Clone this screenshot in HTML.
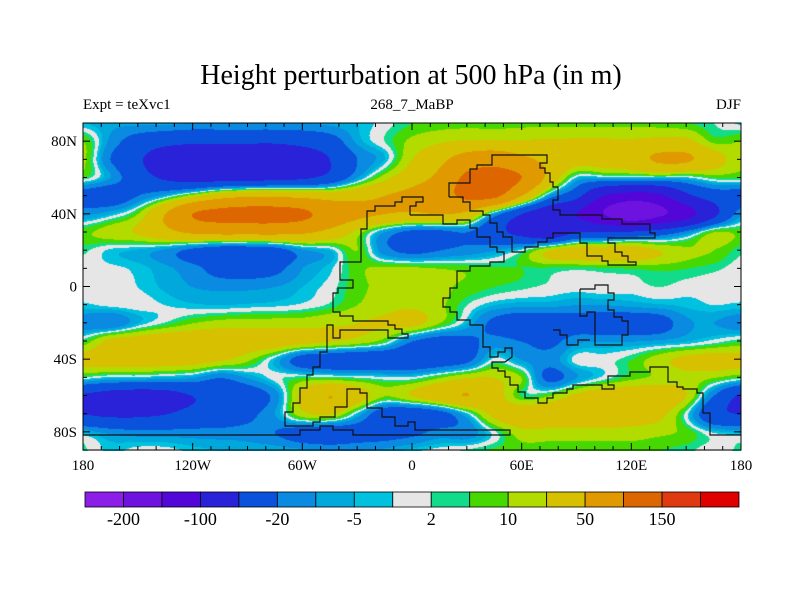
<!DOCTYPE html>
<html><head><meta charset="utf-8"><style>
body{margin:0;background:#fff;width:800px;height:600px;overflow:hidden;position:relative;font-family:"Liberation Serif",serif}
.t{position:absolute;white-space:nowrap;color:#000}
</style></head><body>
<div class="t" style="left:0;width:822px;text-align:center;top:60px;font-size:28px">Height perturbation at 500 hPa (in m)</div>
<div class="t" style="left:83px;top:97px;font-size:15px">Expt = teXvc1</div>
<div class="t" style="left:312px;width:200px;text-align:center;top:97px;font-size:15px">268_7_MaBP</div>
<div class="t" style="right:59px;top:97px;font-size:15px">DJF</div>
<canvas id="field" width="658" height="328" style="position:absolute;left:83px;top:123px"></canvas>
<svg id="ov" width="800" height="600" style="position:absolute;left:0;top:0">
<g fill="none" stroke="#111" stroke-width="1.2">
<polyline points="449,197 463,197 463,202 470,202 470,211 483,211 483,215 490,215 490,223 497,223 497,232 503,232 503,237 512,237 512,252 525,252 525,247 538,247 538,242 547,242 547,238 553,238 553,233 580,233 580,243 587,243 587,256 602,256 602,261 608,261 608,265 636,265 636,262 628,262 628,256 622,256 622,252 615,252 615,243 608,243 608,238 655,238 655,233 650,233 650,224 622,224 622,219 602,219 602,215 560,215 560,210 553,210 553,200 558,200 558,187 553,187 553,182 550,182 550,173 545,173 545,168 540,168 540,163 547,163 547,155 492,155 492,165 477,165 477,169 470,169 470,183 449,183 449,197"/>
<polyline points="410,215 443,215 443,224 457,224 457,220 470,220 470,228 477,228 477,237 490,237 490,247 497,247 497,252 504,252 504,262 490,262 490,266 470,266 470,271 457,271 457,288 450,288 450,298 443,298 443,307 450,307 450,312 457,312 457,320 470,320 470,325 483,325 483,347 490,347 490,357 498,357 498,352 505,352 505,348 512,348 512,357 505,362 492,362 492,368 498,368 498,371 505,371 505,377 510,377 510,385 518,385 518,392 525,392 525,398 538,398 538,403 547,403 547,398 553,398 553,393 567,393 567,389 573,389 573,385 602,385 602,389 614,389 614,385 608,385 608,376 630,376 630,372 650,372 650,367 668,367 668,382 677,382 677,387 683,387 683,389 697,389 697,393 703,393 703,413 710,413 710,435 741,435"/>
<polyline points="410,215 410,206 416,206 416,202 423,202 423,197 402,197 402,202 395,202 395,206 375,206 375,211 367,211 367,229 361,229 361,262 340,262 340,280 353,280 353,288 338,288 338,293 333,293 333,312 340,312 340,316 353,316 353,321 388,321 388,325 395,325 395,329 402,329 402,334 408,334 408,338 388,338 388,330 340,330 340,338 333,338 333,325 327,325 327,352 320,352 320,367 313,367 313,375 307,375 307,388 300,388 300,403 293,403 293,412 285,412 285,426 313,426 313,422 320,422 320,417 335,417 335,407 347,407 347,389 360,389 360,393 367,393 367,408 382,408 382,417 395,417 395,426 408,426 408,422 415,422 415,430 510,430 510,435 353,435 353,430 333,430 333,426 320,426 320,430 300,430 300,435 83,435"/>
<polyline points="580,289 595,289 595,285 608,285 608,293 614,293 614,300 608,300 608,310 614,310 614,317 622,317 622,321 628,321 628,335 622,335 622,345 595,345 595,312 587,312 587,316 580,316 580,289"/>
<polyline points="553,330 560,330 560,335 567,335 567,345 578,345 578,340 590,340"/>
</g>
<rect x="83" y="123" width="658" height="327" fill="none" stroke="#000" stroke-width="1"/>
<g id="ticks" stroke="#000" stroke-width="1"></g>
<g id="labels" font-family="Liberation Serif, serif" font-size="15" fill="#000"></g>
<g id="cbar"></g>
</svg>
<script>
const lons=[-180,-165,-150,-135,-120,-105,-90,-75,-60,-45,-30,-15,0,15,30,45,60,75,90,105,120,135,150,165,180];
const lats=[90,80,70,60,50,40,30,20,10,0,-10,-20,-30,-40,-50,-60,-70,-80,-90];
const r90=[-5,-8,-8,-8,-10,-10,-10,-10,-10,-8,-5,0,5,7,8,8,8,8,8,8,8,7,5,2,-3];
const r80=[10,-12,-30,-40,-45,-45,-45,-45,-40,-30,-8,2,12,18,22,22,22,22,22,22,22,25,25,8,10];
const r70=[12,-20,-45,-70,-75,-80,-80,-80,-70,-50,-20,-5,20,40,70,80,60,40,30,30,35,55,55,30,12];
const r60=[5,-10,-35,-55,-65,-65,-65,-60,-55,-40,-10,15,35,60,110,120,100,40,-3,-5,-5,-3,-3,5,5];
const r50=[-30,-35,-20,-5,15,35,45,45,40,35,40,50,60,80,110,110,50,-10,-40,-100,-120,-110,-60,-35,-30];
const r40=[-12,-5,10,50,100,115,120,120,110,80,60,50,45,50,40,-10,-50,-80,-100,-150,-190,-160,-120,-60,-12];
const r30=[8,15,22,40,55,60,60,60,55,40,15,-10,-25,-25,-20,-40,-60,-80,-50,-50,-45,-35,-15,10,8];
const r20=[3,-3,-6,-12,-25,-35,-35,-30,-12,-5,10,-15,-25,-20,-15,-10,0,20,30,30,30,20,12,10,3];
const r10=[0,-1,-3,-8,-15,-28,-30,-25,-10,-3,8,12,12,10,8,6,5,4,3,4,5,6,5,3,0];
const r0=[0,0,-2,-6,-10,-12,-12,-10,-5,0,8,12,15,12,8,5,3,1,0,1,0,2,0,-1,0];
const rS10=[-3,-1,0,-2,-4,-5,-4,-3,-1,3,10,15,18,12,2,-5,-8,-8,-10,-10,-8,-6,-4,-2,-3];
const rS20=[-15,-18,-5,3,10,14,15,15,15,18,20,22,25,10,-5,-25,-35,-35,-30,-35,-35,-30,-12,-10,-15];
const rS30=[5,25,30,35,35,35,30,30,25,20,15,5,-20,-30,-25,-15,-20,-25,-12,-10,-10,-8,-5,0,5];
const rS40=[25,30,30,30,28,22,12,-5,-30,-35,-40,-40,-40,-35,-25,0,-10,-15,0,0,5,15,25,28,25];
const rS50=[0,-5,-5,-8,-10,-20,-10,0,5,5,3,0,0,10,20,20,10,-25,-10,0,8,12,15,10,3];
const rS60=[-55,-65,-70,-65,-50,-40,-35,-15,25,50,30,10,20,35,50,30,5,10,25,35,35,35,20,-20,-55];
const rS70=[-50,-55,-55,-50,-40,-35,-25,-10,15,20,-5,-35,-40,-30,-5,25,35,35,35,35,30,25,0,-40,-50];
const rS80=[-5,-12,-15,-15,-15,-15,-15,-20,-30,-35,-30,-30,-25,-15,-15,0,15,15,15,15,15,12,8,-2,-5];
const rS90=[3,-3,0,0,-3,-5,-6,-6,-8,-10,-10,-8,-3,0,3,6,7,7,7,7,6,5,3,0,3];
const heightRows=[r90,r80,r70,r60,r50,r40,r30,r20,r10,r0,rS10,rS20,rS30,rS40,rS50,rS60,rS70,rS80,rS90];
const levels=[-200,-150,-100,-50,-20,-10,-5,-2,2,5,10,20,50,100,150,200];
const levelLabels=["-200","-100","-20","-5","2","10","50","150"];
const colors=['#8c1ee8','#6e12e0','#5206d8','#2a22d8','#0a52dc','#0a8ae0','#00a8dc','#00c2de','#e6e6e6','#12dc8a','#46d800','#b2dc00','#d6c000','#e09a00','#de6600','#e03a10','#e00000'];
const xTickLabels=["180","120W","60W","0","60E","120E","180"];
const xTickLons=[-180,-120,-60,0,60,120,180];
const yTickLabels=["80N","40N","0","40S","80S"];
const yTickLats=[80,40,0,-40,-80];

const X0=83,X1=741,Y0=123,Y1=450;
const xOf=lon=>X0+(lon+180)/360*(X1-X0);
const yOf=lat=>Y0+(90-lat)/180*(Y1-Y0);
function cr(p0,p1,p2,p3,t){return 0.5*((2*p1)+(-p0+p2)*t+(2*p0-5*p1+4*p2-p3)*t*t+(-p0+3*p1-3*p2+p3)*t*t*t);}
function val(gx,gy){
  const nx=lons.length,ny=lats.length;
  const ix=Math.floor(gx),iy=Math.floor(gy),tx=gx-ix,ty=gy-iy;
  const cl=(v,n)=>Math.max(0,Math.min(n-1,v));
  const rows=[];
  for(let j=-1;j<=2;j++){const r=heightRows[cl(iy+j,ny)];
    rows.push(cr(r[cl(ix-1,nx)],r[cl(ix,nx)],r[cl(ix+1,nx)],r[cl(ix+2,nx)],tx));}
  return cr(rows[0],rows[1],rows[2],rows[3],ty);
}
function hex(c){return [parseInt(c.substr(1,2),16),parseInt(c.substr(3,2),16),parseInt(c.substr(5,2),16)];}
const rgb=colors.map(hex);
(function(){
  const cv=document.getElementById('field'),ctx=cv.getContext('2d');
  const W=cv.width,H=cv.height,img=ctx.createImageData(W,H);
  for(let py=0;py<H;py++){
    const lat=90-(py+0.5)/H*180,gy=(90-lat)/10;
    for(let px=0;px<W;px++){
      const lon=-180+(px+0.5)/W*360,gx=(lon+180)/15;
      const v=val(gx,gy);let k=0;while(k<levels.length&&v>=levels[k])k++;
      const c=rgb[k],o=(py*W+px)*4;img.data[o]=c[0];img.data[o+1]=c[1];img.data[o+2]=c[2];img.data[o+3]=255;
    }
  }
  ctx.putImageData(img,0,0);
})();
const NS='http://www.w3.org/2000/svg';
const tg=document.getElementById('ticks'),lg=document.getElementById('labels'),cb=document.getElementById('cbar');
function ln(g,x1,y1,x2,y2,name){const l=document.createElementNS(NS,'line');l.setAttribute('x1',x1);l.setAttribute('y1',y1);l.setAttribute('x2',x2);l.setAttribute('y2',y2);


g.appendChild(l);}
for(let lon=-180;lon<=180;lon+=10){const x=xOf(lon),L=(lon%60===0)?7:4;ln(tg,x,Y0,x,Y0+L,'x-tick-top');ln(tg,x,Y1,x,Y1-L,'x-tick-bottom');}
for(let lat=-90;lat<=90;lat+=10){const y=yOf(lat),L=(lat%40===0)?7:4;ln(tg,X0,y,X0+L,y,'y-tick-left');ln(tg,X1,y,X1-L,y,'y-tick-right');}
xTickLabels.forEach((s,i)=>{const t=document.createElementNS(NS,'text');t.setAttribute('x',xOf(xTickLons[i]));t.setAttribute('y',470);t.setAttribute('text-anchor','middle');t.textContent=s;


lg.appendChild(t);});
yTickLabels.forEach((s,i)=>{const t=document.createElementNS(NS,'text');t.setAttribute('x',77);t.setAttribute('y',yOf(yTickLats[i])+5);t.setAttribute('text-anchor','end');t.textContent=s;


lg.appendChild(t);});
const bx0=85,bx1=739,bw=(bx1-bx0)/colors.length;
colors.forEach((c,i)=>{const r=document.createElementNS(NS,'rect');r.setAttribute('x',bx0+i*bw);r.setAttribute('y',492);r.setAttribute('width',bw);r.setAttribute('height',15);r.setAttribute('fill',c);r.setAttribute('stroke','#000');r.setAttribute('stroke-width','0.8');


cb.appendChild(r);});
levelLabels.forEach((s,i)=>{const t=document.createElementNS(NS,'text');t.setAttribute('x',bx0+(2*i+1)*bw);t.setAttribute('y',525);t.setAttribute('text-anchor','middle');t.setAttribute('font-family','Liberation Serif, serif');t.setAttribute('font-size','18');t.textContent=s;


cb.appendChild(t);});
</script>
</body></html>
